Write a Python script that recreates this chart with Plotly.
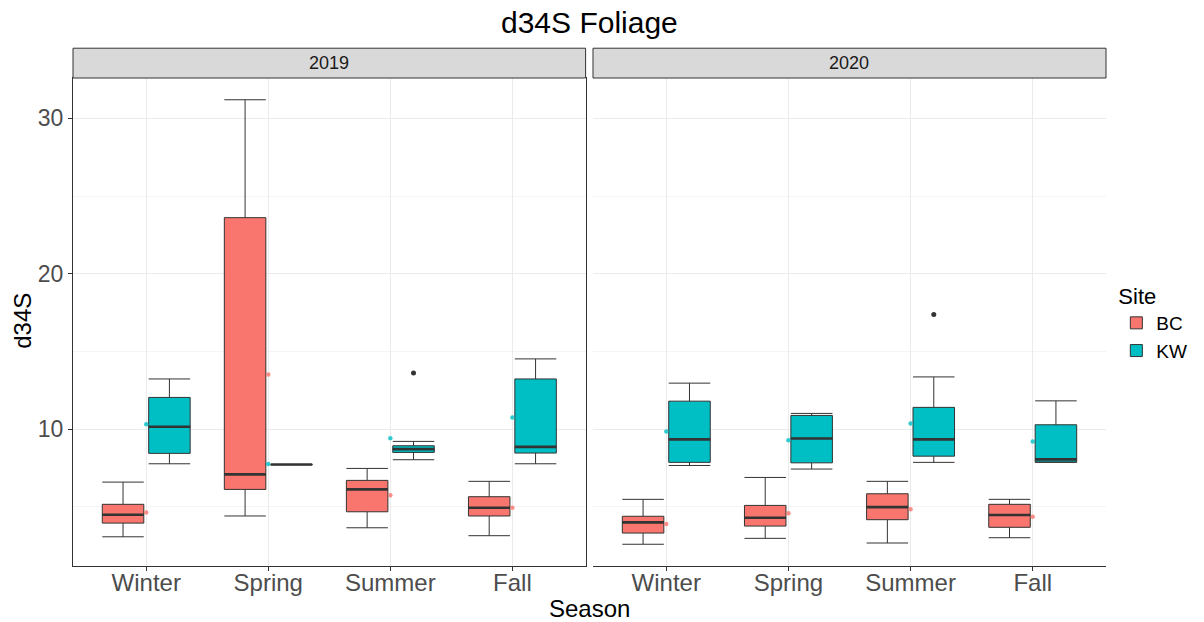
import plotly.graph_objects as go

seasons = ["Winter", "Spring", "Summer", "Fall"]
years = ["2019", "2020"]
sites = ["BC", "KW"]
colors = {"BC": "#F8766D", "KW": "#00BFC4"}

# box stats per year / site (Winter, Spring, Summer, Fall)
bc2019_low = [3.07, 4.41, 3.65, 3.14]
bc2019_q1 = [3.95, 6.12, 4.68, 4.41]
bc2019_med = [4.49, 7.09, 6.12, 4.94]
bc2019_q3 = [5.16, 23.61, 6.70, 5.65]
bc2019_up = [6.59, 31.2, 7.47, 6.64]
bc2019_mean = [4.64, 13.52, 5.74, 4.94]

kw2019_low = [7.77, 7.72, 8.03, 7.77]
kw2019_q1 = [8.44, 7.72, 8.50, 8.46]
kw2019_med = [10.15, 7.72, 8.71, 8.86]
kw2019_q3 = [12.04, 7.72, 8.93, 13.23]
kw2019_up = [13.23, 7.72, 9.21, 14.52]
kw2019_mean = [10.32, 7.75, 9.42, 10.75]

bc2020_low = [2.59, 2.97, 2.67, 3.01]
bc2020_q1 = [3.31, 3.76, 4.17, 3.68]
bc2020_med = [4.00, 4.30, 4.98, 4.47]
bc2020_q3 = [4.39, 5.09, 5.84, 5.16]
bc2020_up = [5.48, 6.89, 6.64, 5.48]
bc2020_mean = [3.89, 4.58, 4.84, 4.36]

kw2020_low = [7.66, 7.43, 7.86, 7.86]
kw2020_q1 = [7.86, 7.83, 8.26, 7.88]
kw2020_med = [9.34, 9.40, 9.34, 8.05]
kw2020_q3 = [11.80, 10.88, 11.40, 10.28]
kw2020_up = [12.96, 11.01, 13.36, 11.82]
kw2020_mean = [9.85, 9.29, 10.37, 9.21]

# outliers: (year, site, season, value)
out_year = ["2019", "2020"]
out_site = ["KW", "KW"]
out_season = ["Summer", "Summer"]
out_value = [13.62, 17.38]

stats = {
    ("2019", "BC"): (bc2019_low, bc2019_q1, bc2019_med, bc2019_q3, bc2019_up, bc2019_mean),
    ("2019", "KW"): (kw2019_low, kw2019_q1, kw2019_med, kw2019_q3, kw2019_up, kw2019_mean),
    ("2020", "BC"): (bc2020_low, bc2020_q1, bc2020_med, bc2020_q3, bc2020_up, bc2020_mean),
    ("2020", "KW"): (kw2020_low, kw2020_q1, kw2020_med, kw2020_q3, kw2020_up, kw2020_mean),
}

DODGE = 0.19
BOXW = 0.34
offset = {"BC": -DODGE, "KW": DODGE}
FONT = "Liberation Sans, Arial, sans-serif"
LINE = "#333333"

fig = go.Figure()
axes = {"2019": ("x", "y"), "2020": ("x2", "y")}

for year in years:
    xa, ya = axes[year]
    for site in sites:
        low, q1, med, q3, up, mean = stats[(year, site)]
        pos = [i + offset[site] for i in range(len(seasons))]
        fig.add_trace(go.Box(
            x=pos, q1=q1, median=med, q3=q3, lowerfence=low, upperfence=up,
            width=BOXW, whiskerwidth=1, fillcolor=colors[site],
            line=dict(color=LINE, width=1), boxpoints=False,
            name=site, legendgroup=site, showlegend=(year == "2019"),
            xaxis=xa, yaxis=ya, hoverinfo="skip"))
        # thicker median lines
        mx, my = [], []
        for p, m in zip(pos, med):
            mx += [p - BOXW / 2, p + BOXW / 2, None]
            my += [m, m, None]
        fig.add_trace(go.Scatter(x=mx, y=my, mode="lines",
                                 line=dict(color=LINE, width=2.6),
                                 showlegend=False, xaxis=xa, yaxis=ya,
                                 hoverinfo="skip"))
        # mean points at category centre
        fig.add_trace(go.Scatter(x=list(range(len(seasons))), y=mean, mode="markers",
                                 marker=dict(color=colors[site], size=4.5, opacity=0.8),
                                 showlegend=False, xaxis=xa, yaxis=ya,
                                 hoverinfo="skip"))

for year in years:
    xa, ya = axes[year]
    ox, oy = [], []
    for yr, st, se, v in zip(out_year, out_site, out_season, out_value):
        if yr == year:
            ox.append(seasons.index(se) + offset[st])
            oy.append(v)
    fig.add_trace(go.Scatter(x=ox, y=oy, mode="markers",
                             marker=dict(color=LINE, size=5),
                             showlegend=False, xaxis=xa, yaxis=ya,
                             hoverinfo="skip"))

L, R, T, B = 72.7, 1107.7, 77.5, 565.7
W, H = 1204, 622
pw = R - L
d1 = (586.3 - L) / pw
d2 = (593.7 - L) / pw

xcommon = dict(range=[-0.6, 3.6], tickvals=list(range(len(seasons))), ticktext=seasons,
               showgrid=True, gridcolor="#EBEBEB", gridwidth=1.1, zeroline=False,
               showline=True, mirror=True, linecolor=LINE, linewidth=1,
               ticks="outside", ticklen=4, tickcolor=LINE, tickwidth=1,
               ticklabelstandoff=-9,
               tickfont=dict(family=FONT, size=24, color="#4D4D4D"))
fig.update_layout(
    xaxis=dict(domain=[0, d1], **xcommon),
    xaxis2=dict(domain=[d2, 1], **xcommon),
    yaxis=dict(range=[1.19, 32.6], tickvals=[10, 20, 30], showgrid=True,
               gridcolor="#EBEBEB", gridwidth=1.1, zeroline=False,
               minor=dict(tickvals=[5, 15, 25], showgrid=True, gridcolor="#F4F4F4", gridwidth=0.6),
               showline=True, mirror=True, linecolor=LINE, linewidth=1,
               ticks="outside", ticklen=4, tickcolor=LINE,
               tickfont=dict(family=FONT, size=23, color="#4D4D4D")),
)

shapes = []
annotations = []
stripH = (T - 47.7) / (B - T)
for year, (a, b) in zip(years, [(0, d1), (d2, 1)]):
    shapes.append(dict(type="rect", xref="paper", yref="paper", x0=a, x1=b, y0=1, y1=1 + stripH,
                       fillcolor="#D9D9D9", line=dict(color=LINE, width=1)))
    annotations.append(dict(text=year, xref="paper", yref="paper", x=(a + b) / 2, y=1 + stripH / 2,
                            showarrow=False, font=dict(family=FONT, size=18, color="#1A1A1A"),
                            xanchor="center", yanchor="middle"))

annotations.append(dict(text="d34S Foliage", xref="paper", yref="paper", x=0.5,
                        y=1 + (T - 22) / (B - T), showarrow=False,
                        font=dict(family=FONT, size=30, color="black"),
                        xanchor="center", yanchor="middle"))
annotations.append(dict(text="Season", xref="paper", yref="paper", x=0.5,
                        y=-(608 - B) / (B - T), showarrow=False,
                        font=dict(family=FONT, size=24, color="black"),
                        xanchor="center", yanchor="middle"))
annotations.append(dict(text="d34S", xref="paper", yref="paper", x=-(L - 22) / pw,
                        y=(B - 320) / (B - T), showarrow=False, textangle=-90,
                        font=dict(family=FONT, size=24, color="black"),
                        xanchor="center", yanchor="middle"))

fig.update_layout(
    width=W, height=H,
    margin=dict(l=L, r=W - R, t=T, b=H - B, pad=0),
    paper_bgcolor="white", plot_bgcolor="white",
    boxmode="overlay",
    shapes=shapes, annotations=annotations,
    legend=dict(title=dict(text="Site", font=dict(family=FONT, size=22, color="black")),
                font=dict(family=FONT, size=19, color="black"),
                x=1.01, xanchor="left", y=(B - 322) / (B - T), yanchor="middle",
                tracegroupgap=0, itemwidth=30),
    font=dict(family=FONT),
)

fig.write_html("out.html", config={"displayModeBar": False},
               post_script="document.body.style.margin='0';document.body.style.overflow='hidden';")
